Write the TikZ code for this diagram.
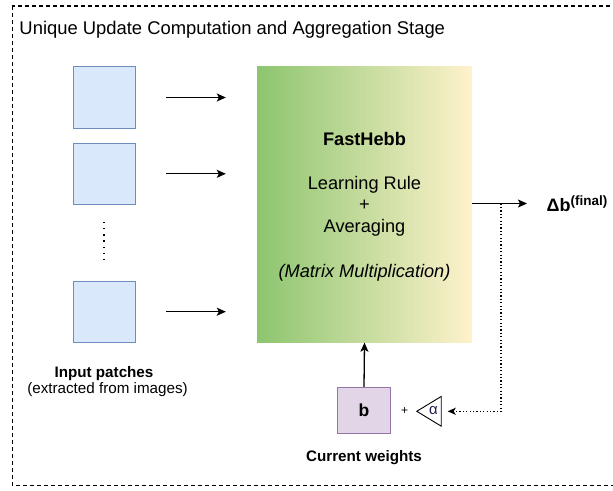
\documentclass[tikz,border=0pt]{standalone}
\usepackage{fontspec}
\setmainfont{Liberation Sans}
\usetikzlibrary{arrows.meta}
\definecolor{patchfill}{HTML}{DAE8FC}
\definecolor{patchdraw}{HTML}{6C8EBF}
\definecolor{wfill}{HTML}{E1D5E7}
\definecolor{wdraw}{HTML}{9673A6}
\definecolor{gleft}{HTML}{8CC56F}
\definecolor{gright}{HTML}{FFF2CC}
\definecolor{alphacol}{HTML}{1F1F4F}
\tikzset{
  patch/.style={draw=patchdraw, fill=patchfill, line width=0.8pt, minimum width=61.5pt, minimum height=61.5pt, inner sep=0pt},
  arr/.style={line width=1.3pt, -{Stealth[length=9pt,width=8pt,inset=2pt]}},
  dotarr/.style={line width=1.2pt, dash pattern=on 1.2pt off 2.2pt, -{Stealth[length=8pt,width=7pt,inset=2pt]}},
  txt/.style={inner sep=0pt, anchor=base},
  big/.style={font=\fontsize{18.2}{21}\selectfont},
  small/.style={font=\fontsize{15.2}{18}\selectfont},
}
\begin{document}
\begin{tikzpicture}[x=1pt,y=-1pt]
\useasboundingbox (0,0) rectangle (613,490);
% frame
\draw[line width=1.3pt, dash pattern=on 4pt off 3pt] (12.3,6) rectangle (640,485.5);
\node[txt, anchor=base west, font=\fontsize{18.4}{21}\selectfont] (title) at (19.3,34.5) {Unique Update Computation and Aggregation Stage};
% patches
\node[patch] (p1) at (104.2,97.5) {};
\node[patch] (p2) at (104.2,173.8) {};
\node[patch] (p3) at (104.2,311.7) {};
\coordinate (d1) at (104,221.7);
\coordinate (d2) at (104,265);
\draw[line width=1.5pt, dash pattern=on 1.4pt off 4.8pt] (d1) -- (d2);
\node[txt, small] (lab1) at (104,377.3) {\bfseries Input patches};
\node[txt, small] (lab2) at (107.5,393.3) {(extracted from images)};
% main box
\node[inner sep=0pt, minimum width=215pt, minimum height=275.5pt, left color=gleft, right color=gright, draw=none] (main) at (364.5,204.7) {};
\node[txt, big] (t1) at (364.5,145) {\bfseries FastHebb};
\node[txt, big] (t2) at (364.5,189.3) {Learning Rule};
\node[txt, big] (t3) at (364.5,210.4) {+};
\node[txt, big] (t4) at (364.5,232.5) {Averaging};
\node[txt, big] (t5) at (364.5,277) {\itshape (Matrix Multiplication)};
% arrows in
\foreach \p in {p1,p2,p3}
  \draw[arr, shorten <=30.5pt, shorten >=31pt] (\p.east) -- (\p.east -| main.west);
% output
\node[txt, anchor=base west, font=\fontsize{18}{21}\selectfont] (out) at (546.5,211.7) {\bfseries Δb$^{\textbf{\fontsize{13.5}{15}\selectfont(final)}}$};
\coordinate (outend) at (527,203.5);
\draw[arr] (main.east |- outend) -- (outend);
\coordinate (tap) at (501,203.5);
% current weights
\node[draw=wdraw, fill=wfill, line width=0.8pt, minimum width=53.5pt, minimum height=46pt, inner sep=0pt, font=\fontsize{17.5}{20}\selectfont] (b) at (364,410.3) {\bfseries b};
\draw[arr] (b.north) -- (main.south);
\node[txt, small] (lab3) at (364,461.7) {\bfseries Current weights};
\node[inner sep=0pt, font=\fontsize{12}{14}\selectfont] (plus) at (404.5,411) {+};
% alpha triangle
\node[minimum width=24pt, minimum height=29.3pt, inner sep=0pt] (tri) at (429,411.3) {};
\draw[line width=0.9pt, line join=miter] (tri.west) -- (tri.north east) -- (tri.south east) -- cycle;
\node[inner sep=0pt, text=alphacol, font=\fontsize{15}{18}\selectfont] (alpha) at (433.5,410.5) {α};
\draw[dotarr, shorten >=6.5pt] (tap) |- (tri.east);
\end{tikzpicture}
\end{document}
